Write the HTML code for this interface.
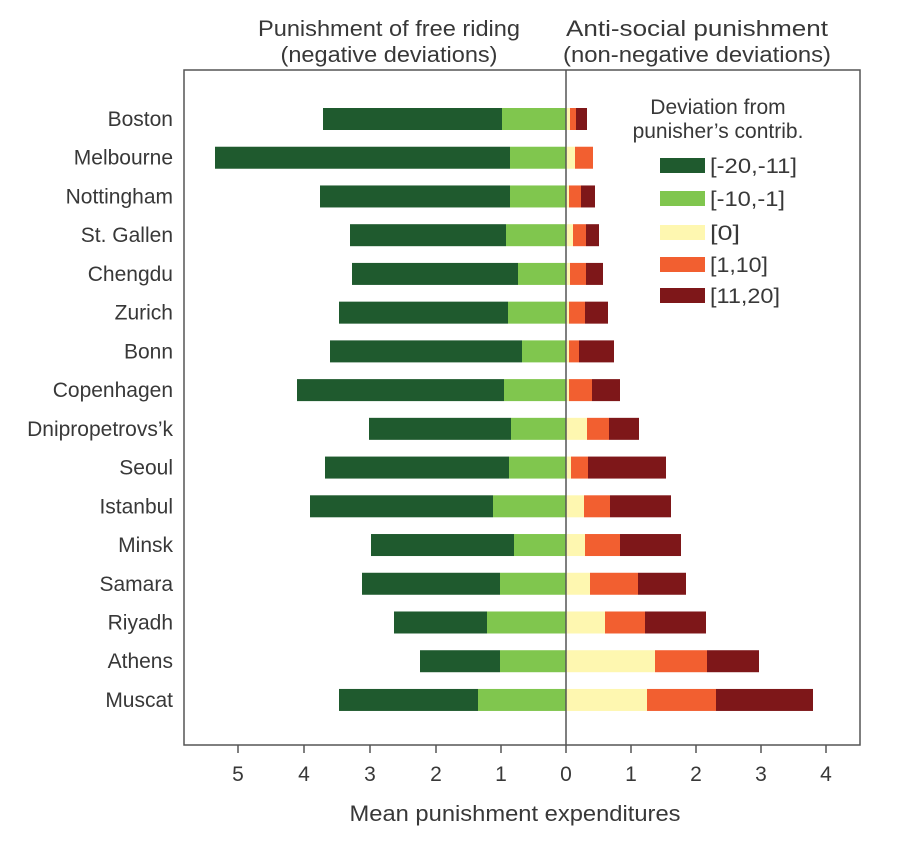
<!DOCTYPE html>
<html><head><meta charset="utf-8"><style>
body{margin:0;background:#fff;}
svg text{font-family:"Liberation Sans",sans-serif;fill:#383838;}
</style></head><body>
<svg width="914" height="846" xmlns="http://www.w3.org/2000/svg">
<rect width="914" height="846" fill="#fff"/>
<text x="389" y="36" font-size="22" text-anchor="middle" textLength="262" lengthAdjust="spacingAndGlyphs">Punishment of free riding</text>
<text x="389" y="62" font-size="22" text-anchor="middle" textLength="217" lengthAdjust="spacingAndGlyphs">(negative deviations)</text>
<text x="697" y="36" font-size="22" text-anchor="middle" textLength="262" lengthAdjust="spacingAndGlyphs">Anti-social punishment</text>
<text x="697" y="62" font-size="22" text-anchor="middle" textLength="268" lengthAdjust="spacingAndGlyphs">(non-negative deviations)</text>
<g id="bars"></g>
<rect x="184" y="70" width="676" height="675" fill="none" stroke="#555" stroke-width="1.5"/>
<line x1="566" y1="70" x2="566" y2="753" stroke="#555" stroke-width="1.5"/>
<g stroke="#555" stroke-width="1.5">
<line x1="238" y1="745" x2="238" y2="753"/><line x1="304" y1="745" x2="304" y2="753"/><line x1="370" y1="745" x2="370" y2="753"/><line x1="436" y1="745" x2="436" y2="753"/><line x1="501" y1="745" x2="501" y2="753"/><line x1="631" y1="745" x2="631" y2="753"/><line x1="696" y1="745" x2="696" y2="753"/><line x1="761" y1="745" x2="761" y2="753"/><line x1="826" y1="745" x2="826" y2="753"/>
</g>
<g font-size="21" text-anchor="middle">
<text x="238" y="781">5</text><text x="304" y="781">4</text><text x="370" y="781">3</text><text x="436" y="781">2</text><text x="501" y="781">1</text><text x="566" y="781">0</text><text x="631" y="781">1</text><text x="696" y="781">2</text><text x="761" y="781">3</text><text x="826" y="781">4</text>
</g>
<text x="515" y="821" font-size="22" text-anchor="middle" textLength="331" lengthAdjust="spacingAndGlyphs">Mean punishment expenditures</text>
<text x="718" y="114" font-size="21" text-anchor="middle">Deviation from</text>
<text x="718" y="138" font-size="21" text-anchor="middle">punisher’s contrib.</text>
<g font-size="21">
<rect x="660" y="158" width="45" height="15" fill="#1f5a2e"/><text x="710" y="173" textLength="87" lengthAdjust="spacingAndGlyphs">[-20,-11]</text>
<rect x="660" y="191" width="45" height="15" fill="#80c64e"/><text x="710" y="206" textLength="75" lengthAdjust="spacingAndGlyphs">[-10,-1]</text>
<rect x="660" y="225" width="45" height="15" fill="#fef7b0"/><text x="710" y="240" textLength="30" lengthAdjust="spacingAndGlyphs">[0]</text>
<rect x="660" y="257" width="45" height="15" fill="#f25f30"/><text x="710" y="272" textLength="58" lengthAdjust="spacingAndGlyphs">[1,10]</text>
<rect x="660" y="288" width="45" height="15" fill="#7e1719"/><text x="710" y="303" textLength="70" lengthAdjust="spacingAndGlyphs">[11,20]</text>
</g>
<g id="labels" font-size="21" text-anchor="end"></g>
</svg>
<script>
var d=[["Boston",323,502,570,576,587],["Melbourne",215,510,575,593,593],["Nottingham",320,510,569,581,595],["St. Gallen",350,506,573,586,599],["Chengdu",352,518,570,586,603],["Zurich",339,508,569,585,608],["Bonn",330,522,569,579,614],["Copenhagen",297,504,569,592,620],["Dnipropetrovs’k",369,511,587,609,639],["Seoul",325,509,571,588,666],["Istanbul",310,493,584,610,671],["Minsk",371,514,585,620,681],["Samara",362,500,590,638,686],["Riyadh",394,487,605,645,706],["Athens",420,500,655,707,759],["Muscat",339,478,647,716,813]];
var ns="http://www.w3.org/2000/svg",b=document.getElementById("bars"),l=document.getElementById("labels");
function r(x1,x2,y,c){if(x2<=x1)return;var e=document.createElementNS(ns,"rect");e.setAttribute("x",x1);e.setAttribute("width",x2-x1);e.setAttribute("y",y-11);e.setAttribute("height",22);e.setAttribute("fill",c);b.appendChild(e);}
d.forEach(function(a,i){var y=119+i*38.73;r(a[1],a[2],y,"#1f5a2e");r(a[2],566,y,"#80c64e");r(566,a[3],y,"#fef7b0");r(a[3],a[4],y,"#f25f30");r(a[4],a[5],y,"#7e1719");
var t=document.createElementNS(ns,"text");t.setAttribute("x",173);t.setAttribute("y",y+7);t.textContent=a[0];l.appendChild(t);});
</script>
</body></html>
